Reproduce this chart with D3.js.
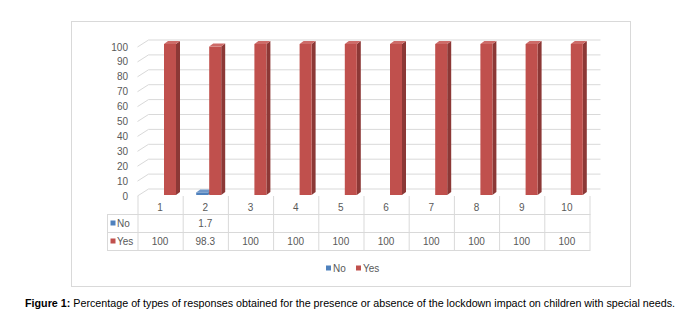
<!DOCTYPE html>
<html>
<head>
<meta charset="utf-8">
<script src="https://cdn.jsdelivr.net/npm/d3@7"></script>
<style>
  body { margin: 0; background: #fff; }
  svg { display: block; font-family: "Liberation Sans", Arial, sans-serif; }
</style>
</head>
<body>
<svg id="chart" width="684" height="321"></svg>
<script>
// data
categories = ["1", "2", "3", "4", "5", "6", "7", "8", "9", "10"];
seriesNames = ["No", "Yes"];
noValues = [null, 1.7, null, null, null, null, null, null, null, null];
yesValues = [100, 98.3, 100, 100, 100, 100, 100, 100, 100, 100];
yTicks = [0, 10, 20, 30, 40, 50, 60, 70, 80, 90, 100];

colors = {
    No:  { front: "#4f81bd", side: "#385d8a", top: "#6f97c9" },
    Yes: { front: "#c0504d", side: "#8c3836", top: "#cd6b68" }
};
gridColor = "#d9d9d9";
textColor = "#595959";

svg = d3.select("#chart");

// outer frame
svg.append("rect")
    .attr("x", 71.5).attr("y", 21.5)
    .attr("width", 559).attr("height", 265)
    .attr("fill", "none")
    .attr("stroke", gridColor);

x = d3.scaleBand().domain(categories).range([137.5, 589.5]);
yWall = d3.scaleLinear().domain([0, 100]).range([196, 47]);
yBar = d3.scaleLinear().domain([0, 100]).range([195, 44]);
depthX = 11, depthY = -7;

// gridlines: side wall diagonal + back wall line
grid = svg.append("g");
yTicks.forEach(t => {
    y0 = yWall(t);
    grid.append("path")
        .attr("d", `M${x.range()[0]},${y0}L${x.range()[0] + depthX},${y0 + depthY}L${x.range()[1] + depthX},${y0 + depthY}`)
        .attr("fill", "none")
        .attr("stroke", gridColor)
        .attr("stroke-width", 1);
});

// y labels
svg.append("g").selectAll("text")
    .data(yTicks)
    .join("text")
    .attr("x", 128)
    .attr("y", d => yWall(d) + 3.5)
    .attr("text-anchor", "end")
    .attr("font-size", 10)
    .attr("fill", textColor)
    .text(d => d);

// 3D bars
function bar3d(g, x0, w, v, c) {
    if (v == null) return;
    yt = yBar(v), yb = yBar(0), dx = 4, dy = -3;
    g.append("path")
        .attr("d", `M${x0 + w},${yt}L${x0 + w + dx},${yt + dy}L${x0 + w + dx},${yb + dy}L${x0 + w},${yb}Z`)
        .attr("fill", c.side);
    g.append("rect")
        .attr("x", x0).attr("y", yt)
        .attr("width", w).attr("height", yb - yt)
        .attr("fill", c.front);
    g.append("path")
        .attr("d", `M${x0},${yt}L${x0 + dx},${yt + dy}L${x0 + w + dx},${yt + dy}L${x0 + w},${yt}Z`)
        .attr("fill", c.top);
}

bars = svg.append("g");
categories.forEach((cat, i) => {
    bar3d(bars, x(cat) + 13.5, 12, noValues[i], colors.No);
    bar3d(bars, x(cat) + 26.5, 12, yesValues[i], colors.Yes);
});

// data table
table = svg.append("g");
tableTop = 196, row1 = 214, row2 = 232, row3 = 250, keyLeft = 107;

x.domain().forEach(cat => {
    table.append("line")
        .attr("x1", x(cat) + 0.5).attr("x2", x(cat) + 0.5)
        .attr("y1", tableTop).attr("y2", row3)
        .attr("stroke", gridColor);
});
table.append("line")
    .attr("x1", x.range()[1] + 0.5).attr("x2", x.range()[1] + 0.5)
    .attr("y1", tableTop).attr("y2", row3)
    .attr("stroke", gridColor);
table.append("line")
    .attr("x1", keyLeft + 0.5).attr("x2", keyLeft + 0.5)
    .attr("y1", row1).attr("y2", row3)
    .attr("stroke", gridColor);
[row1, row2, row3].forEach(r => {
    table.append("line")
        .attr("x1", keyLeft).attr("x2", x.range()[1] + 1)
        .attr("y1", r + 0.5).attr("y2", r + 0.5)
        .attr("stroke", gridColor);
});

// category labels
table.selectAll(".cat")
    .data(categories)
    .join("text")
    .attr("x", d => x(d) + x.bandwidth() / 2)
    .attr("y", 211)
    .attr("text-anchor", "middle")
    .attr("font-size", 10)
    .attr("fill", textColor)
    .text(d => d);

// series rows
[[noValues, row1], [yesValues, row2]].forEach(([vals, r], k) => {
    name = seriesNames[k];
    table.append("rect")
        .attr("x", 110.5).attr("y", r + 6.5)
        .attr("width", 5).attr("height", 5)
        .attr("fill", colors[name].front);
    table.append("text")
        .attr("x", 117).attr("y", r + 13)
        .attr("font-size", 10)
        .attr("fill", textColor)
        .text(name);
    table.selectAll(null)
        .data(vals)
        .join("text")
        .attr("x", (d, i) => x(categories[i]) + x.bandwidth() / 2)
        .attr("y", r + 13)
        .attr("text-anchor", "middle")
        .attr("font-size", 10)
        .attr("fill", textColor)
        .text(d => d == null ? "" : d);
});

// legend
legend = svg.append("g").attr("transform", "translate(326, 268)");
legendX = [0, 30];
seriesNames.forEach((name, i) => {
    legend.append("rect")
        .attr("x", legendX[i]).attr("y", -2.5)
        .attr("width", 5).attr("height", 5)
        .attr("fill", colors[name].front);
    legend.append("text")
        .attr("x", legendX[i] + 7).attr("y", 3.5)
        .attr("font-size", 10)
        .attr("fill", textColor)
        .text(name);
});

// caption
caption = svg.append("text")
    .attr("x", 25).attr("y", 307)
    .attr("font-size", 10.5)
    .attr("fill", "#000")
    .attr("textLength", 650)
    .attr("lengthAdjust", "spacingAndGlyphs");
caption.append("tspan").attr("font-weight", "bold").text("Figure 1:");
caption.append("tspan").text(" Percentage of types of responses obtained for the presence or absence of the lockdown impact on children with special needs.");
</script>
</body>
</html>
